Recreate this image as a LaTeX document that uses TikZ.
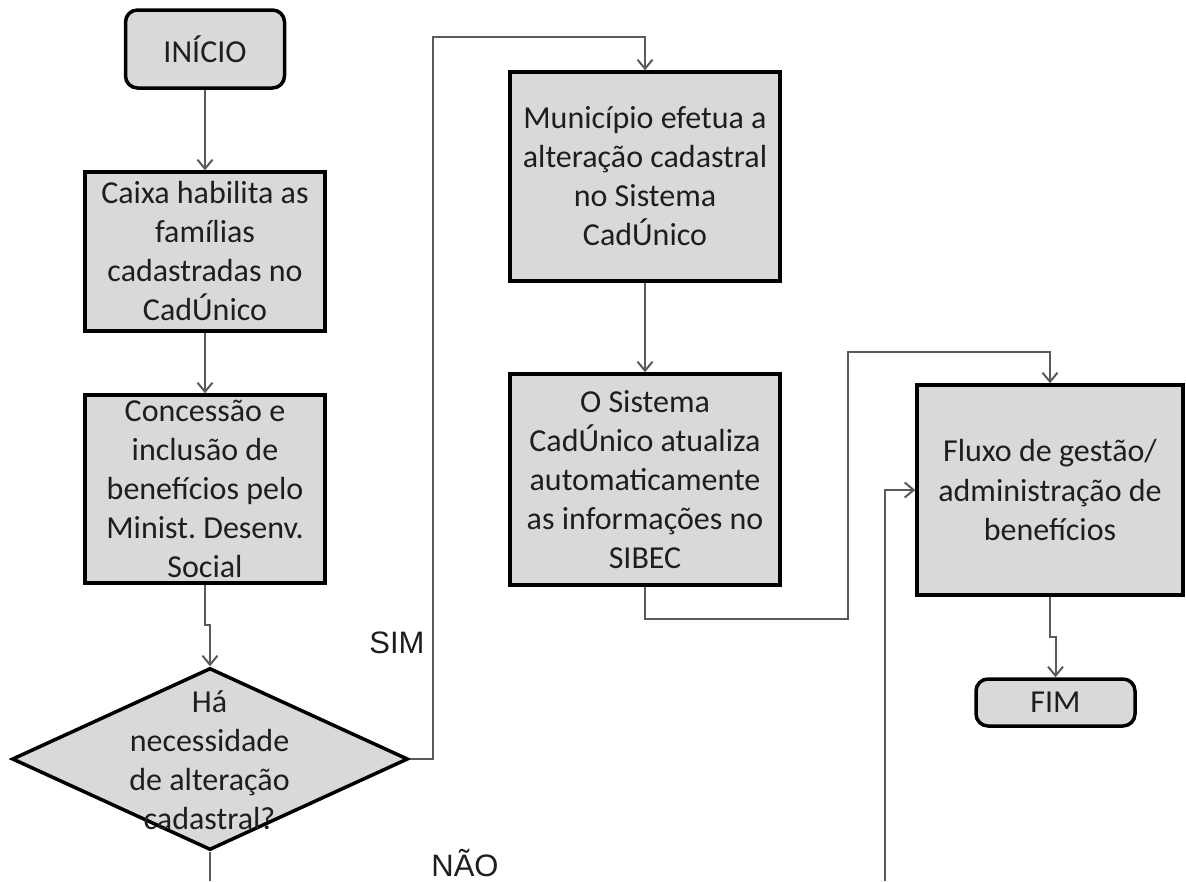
\documentclass[tikz,border=0pt]{standalone}
\usepackage{fontspec}
\setmainfont{Carlito}
\newfontfamily\labelfont{Liberation Sans}
\usetikzlibrary{arrows.meta,shapes.geometric}
\definecolor{boxfill}{HTML}{D9D9D9}
\definecolor{linegray}{HTML}{5A5A5A}
\definecolor{txt}{HTML}{1E1E1E}
\frenchspacing
\tikzset{
  procbox/.style={draw=black, line width=3.5pt, fill=boxfill, inner sep=0pt,
    align=center, text=txt, font=\fontsize{32}{39}\selectfont},
  termbox/.style={procbox, rounded corners=12pt},
  decbox/.style={draw=black, line width=3.5pt, fill=boxfill, diamond, inner sep=0pt},
  conn/.style={draw=linegray, line width=2pt, -{Straight Barb[length=9pt,width=15pt]}},
  plainconn/.style={draw=linegray, line width=2pt},
  lbl/.style={font=\labelfont\fontsize{31}{36}\selectfont, text=txt, inner sep=0pt}
}
\begin{document}
\begin{tikzpicture}[x=1pt,y=-1pt]
\useasboundingbox[fill=white] (0,0) rectangle (1186,881);
% nodes
\node[termbox, minimum width=159pt, minimum height=78pt] (inicio) at (205,49) {INÍCIO};
\node[procbox, minimum width=240pt, minimum height=159pt] (caixa) at (205,251.5)
  {Caixa habilita as\\famílias\\cadastradas no\\CadÚnico};
\node[procbox, minimum width=240pt, minimum height=188pt] (conc) at (205,489)
  {Concessão e\\inclusão de\\benefícios pelo\\Minist. Desenv.\\Social};
\node[decbox, minimum width=396pt, minimum height=182pt] (dec) at (210,759) {};
\node[align=center, text=txt, inner sep=0pt, font=\fontsize{32}{39}\selectfont] (dectext) at (209.5,760)
  {Há\\necessidade\\de alteração\\cadastral?};
\node[procbox, minimum width=270pt, minimum height=209pt] (muni) at (645,176.5)
  {Município efetua a\\alteração cadastral\\no Sistema\\CadÚnico};
\node[procbox, minimum width=270pt, minimum height=211pt] (sibec) at (645,479.5)
  {O Sistema\\CadÚnico atualiza\\automaticamente\\as informações no\\SIBEC};
\node[procbox, minimum width=266pt, minimum height=210pt] (fluxo) at (1050,490)
  {Fluxo de gestão/\\administração de\\benefícios};
\node[termbox, minimum width=159pt, minimum height=47pt] (fim) at (1055.5,702.5) {FIM};
\node[lbl, anchor=base] (sim) at (397,653) {SIM};
\node[lbl, anchor=base] (nao) at (465,876) {NÃO};
% helper coordinates
\coordinate (s1) at (433,37);
\coordinate (c1) at (848,619);
\coordinate (c2) at (848,352);
\coordinate (b1) at (885,881);
\coordinate (d1) at (210,881);
% connectors
\draw[conn] (inicio.south) -- (caixa.north);
\draw[conn] (caixa.south) -- (conc.north);
\draw[conn] (conc.south) -- ++(0,40) -| (dec.north);
\draw[conn] (dec.east) -| (s1) -| (muni.north);
\draw[conn] (muni.south) -- (sibec.north);
\draw[conn] (sibec.south) |- (c1) -- (c2) -| (fluxo.north);
\draw[conn] (b1) |- (fluxo.west);
\draw[conn] (fluxo.south) -- ++(0,40) -| (fim.north);
\draw[plainconn] (dec.south) -- (d1);
\end{tikzpicture}
\end{document}
